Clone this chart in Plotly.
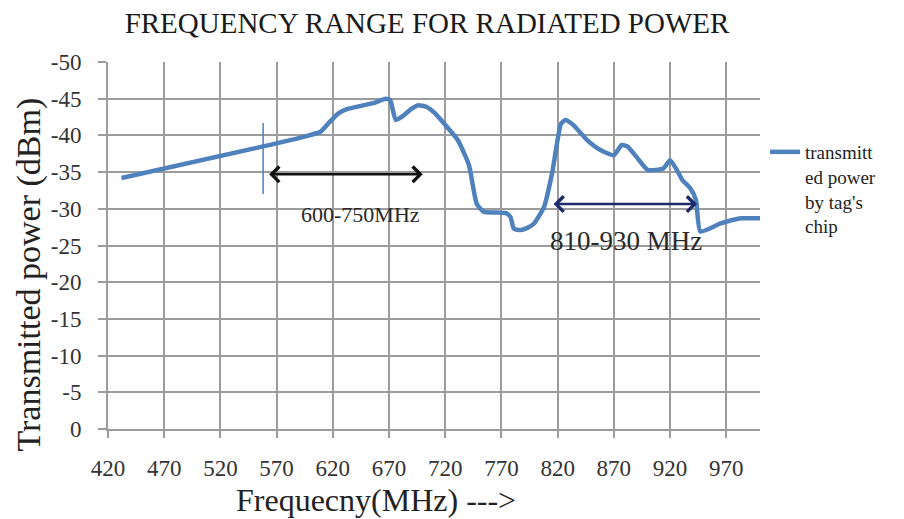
import plotly.graph_objects as go

# ---- data ----
freq_mhz = [432, 558, 594, 609, 617, 625, 633, 656, 667, 671, 676, 682, 689, 696, 703,
            711, 719, 731, 741, 748, 754, 764, 774, 778, 781, 787, 793, 799, 808, 815,
            823, 827, 834, 846, 858, 870, 877, 882, 891, 900, 914, 920, 926, 931, 938,
            943, 947, 965, 983, 1000]
power_dbm = [-34.2, -38.5, -39.8, -40.5, -41.8, -43.0, -43.6, -44.4, -45.0, -44.8, -42.1,
             -42.6, -43.5, -44.1, -43.9, -43.0, -41.6, -39.4, -36.0, -30.7, -29.6, -29.5,
             -29.4, -28.9, -27.3, -27.1, -27.4, -28.0, -30.3, -34.8, -41.6, -42.1, -41.4,
             -39.4, -38.0, -37.3, -38.7, -38.5, -36.9, -35.3, -35.5, -36.6, -35.3, -33.9,
             -32.8, -31.2, -26.9, -28.0, -28.7, -28.7]

x_ticks = [420, 470, 520, 570, 620, 670, 720, 770, 820, 870, 920, 970]
x_tick_labels = [str(v) for v in x_ticks]
y_ticks = [0, -5, -10, -15, -20, -25, -30, -35, -40, -45, -50]
y_tick_labels = ["0", "-5", "-10", "-15", "-20", "-25", "-30", "-35", "-40", "-45", "-50"]

# annotation data (band ranges as drawn)
band1_span = [562, 700]
band1_level = -34.7
band1_label = "600-750MHz"
band1_label_pos = [645, -29.2]
band2_span = [815, 944]
band2_level = -30.65
band2_label = "810-930 MHz"
band2_label_pos = [881, -25.6]
marker_freq = 558
marker_range = [-41.7, -32.0]

series_name = "transmitt<br>ed power<br>by tag's<br>chip"

SERIF = "Liberation Serif, Times New Roman, serif"
BLUE = "#4f81bd"
GRID = "#9c9c9c"

# page body has an 8px margin: figure coords = screen coords - 8
OFF = 8
PL, PR, PT, PB = 107.5 - OFF, 760 - OFF, 62 - OFF, 429 - OFF   # plot area in figure px
PW, PH = PR - PL, PB - PT

fig = go.Figure()
fig.add_trace(go.Scatter(
    x=freq_mhz, y=power_dbm, mode="lines", name=series_name,
    line=dict(color=BLUE, width=4.5, shape="spline", smoothing=0.5),
    hoverinfo="skip",
))

# thin blue marker line
fig.add_shape(type="line", xref="x", yref="y",
              x0=marker_freq, x1=marker_freq, y0=marker_range[0], y1=marker_range[1],
              line=dict(color=BLUE, width=1.5))

annotations = [
    dict(x=band1_span[1], y=band1_level, ax=band1_span[0], ay=band1_level,
         xref="x", yref="y", axref="x", ayref="y", text="", showarrow=True,
         arrowside="end+start", arrowhead=4, startarrowhead=4,
         arrowsize=1.2, startarrowsize=1.2, arrowwidth=2.5, arrowcolor="#111111",
         standoff=0, startstandoff=0),
    dict(x=band2_span[1], y=band2_level, ax=band2_span[0], ay=band2_level,
         xref="x", yref="y", axref="x", ayref="y", text="", showarrow=True,
         arrowside="end+start", arrowhead=4, startarrowhead=4,
         arrowsize=1.2, startarrowsize=1.2, arrowwidth=2.5, arrowcolor="#1f2a6b",
         standoff=0, startstandoff=0),
    dict(x=band1_label_pos[0], y=band1_label_pos[1], xref="x", yref="y",
         xanchor="center", yanchor="middle",
         text=band1_label, showarrow=False,
         font=dict(family=SERIF, size=22, color="#2a2a2a")),
    dict(x=band2_label_pos[0], y=band2_label_pos[1], xref="x", yref="y",
         xanchor="center", yanchor="middle",
         text=band2_label, showarrow=False,
         font=dict(family=SERIF, size=27, color="#2a2a2a")),
    # axis titles
    dict(x=(376 - 107.5) / PW, y=-(500 - 429) / PH, xref="paper", yref="paper",
         xanchor="center", yanchor="middle",
         text="Frequecny(MHz) --->", showarrow=False,
         font=dict(family=SERIF, size=32, color="#222222")),
    dict(x=-(107.5 - 28) / PW, y=(429 - 275) / PH, xref="paper", yref="paper",
         xanchor="center", yanchor="middle",
         text="Transmitted power (dBm)", showarrow=False, textangle=-90,
         font=dict(family=SERIF, size=34, color="#222222")),
]

fig.update_layout(
    width=904, height=519,
    margin=dict(l=PL, r=904 - PR, t=PT, b=519 - PB),
    paper_bgcolor="white", plot_bgcolor="white",
    title=dict(text="FREQUENCY RANGE FOR RADIATED POWER", x=(427 - OFF) / 904, xanchor="center",
               y=1 - (23 - OFF) / 519, yanchor="middle", yref="container",
               font=dict(family=SERIF, size=29, color="#1a1a1a")),
    showlegend=True,
    legend=dict(x=(757 - PL) / PW, y=(PB - 125) / PH, xanchor="left", yanchor="top",
                bgcolor="rgba(0,0,0,0)", valign="top", tracegroupgap=0,
                font=dict(family=SERIF, size=19, color="#222222")),
    annotations=annotations,
    xaxis=dict(range=[420, 1000], tickvals=x_ticks, ticktext=x_tick_labels,
               showgrid=True, gridcolor=GRID, gridwidth=2, zeroline=False,
               showline=True, linecolor=GRID, linewidth=2,
               ticks="outside", ticklen=7, tickwidth=2, tickcolor=GRID,
               ticklabelstandoff=10,
               tickfont=dict(family=SERIF, size=23, color="#333333")),
    yaxis=dict(range=[0, -50], tickvals=y_ticks, ticktext=y_tick_labels,
               showgrid=True, gridcolor=GRID, gridwidth=2, zeroline=False,
               showline=True, linecolor=GRID, linewidth=2,
               ticks="outside", ticklen=8, tickwidth=2, tickcolor=GRID,
               ticklabelstandoff=12,
               tickfont=dict(family=SERIF, size=23, color="#333333")),
)

fig.write_html("out.html")
